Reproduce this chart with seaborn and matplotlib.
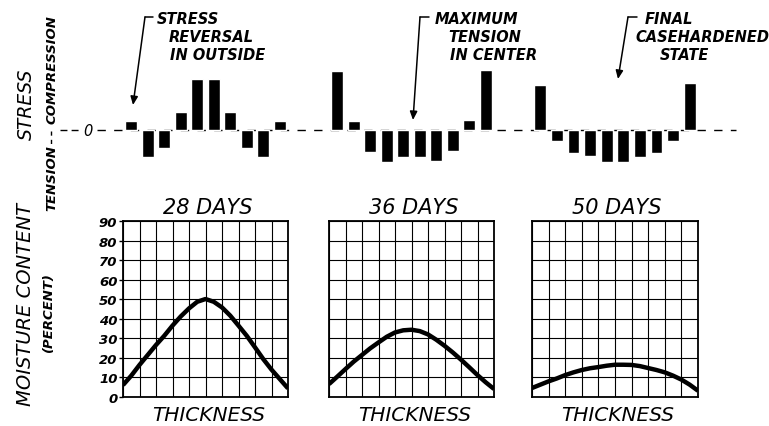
import matplotlib
matplotlib.use("Agg")
import matplotlib.pyplot as plt
from matplotlib.lines import Line2D
from matplotlib.patches import FancyArrowPatch
import pandas as pd
import seaborn as sns

# ---- data -------------------------------------------------------------
days = ["28 DAYS", "36 DAYS", "50 DAYS"]

# relative stress in each of ten layers across the thickness
# (positive = compression, negative = tension)
stress_28 = [9, -27, -18, 18, 51, 51, 18, -18, -27, 9]
stress_36 = [59, 9, -22, -32, -27, -27, -31, -21, 10, 60]
stress_50 = [45, -11, -23, -26, -32, -32, -27, -23, -11, 47]

# moisture content (percent) at stations across the thickness
thickness = [0, 0.5, 1, 1.5, 2, 2.5, 3, 3.5, 4, 4.5, 5,
             5.5, 6, 6.5, 7, 7.5, 8, 8.5, 9, 9.5, 10]
moisture_28 = [6.1, 10.9, 16.4, 21.5, 26.6, 31.3, 36.5, 41.2, 45.3, 48.7, 50.1,
               48.7, 45.8, 41.6, 36.5, 31.3, 25.4, 19.4, 14.0, 9.2, 4.4]
moisture_36 = [6.6, 10.4, 14.3, 18.1, 21.5, 24.9, 27.9, 30.8, 33.0, 34.1, 34.4,
               33.7, 32.0, 29.3, 26.2, 22.8, 19.1, 15.2, 11.2, 7.5, 4.1]
moisture_50 = [4.6, 6.3, 8.0, 9.5, 11.2, 12.6, 13.8, 14.7, 15.3, 16.0, 16.5,
               16.5, 16.4, 15.8, 14.8, 13.8, 12.6, 10.9, 8.9, 6.3, 3.2]

grid_x = [0, 1, 2, 3, 4, 5, 6, 7, 8, 9, 10]
moisture_ticks = [0, 10, 20, 30, 40, 50, 60, 70, 80, 90]

notes = [
    ["STRESS", "REVERSAL", "IN OUTSIDE"],
    ["MAXIMUM", "TENSION", "IN CENTER"],
    ["FINAL", "CASEHARDENED", "STATE"],
]

# ---- style ------------------------------------------------------------
sns.set_style("white")
plt.rcParams["font.family"] = ["DejaVu Sans"]
plt.rcParams["font.style"] = "oblique"
for key in ("text.color", "axes.labelcolor", "xtick.color", "ytick.color"):
    plt.rcParams[key] = "black"

W, H = 769, 427
fig = plt.figure(figsize=(W / 100, H / 100), dpi=100)
fig.patch.set_facecolor("white")


def box(x0, y0, x1, y1):
    """Pixel box (top-left origin) -> figure fraction rect."""
    return [x0 / W, 1 - y1 / H, (x1 - x0) / W, (y1 - y0) / H]


def fx(x):
    return x / W


def fy(y):
    return 1 - y / H


panel_x = [(123, 288), (329, 494), (532, 698)]
stress_sets = [stress_28, stress_36, stress_50]
moisture_sets = [moisture_28, moisture_36, moisture_50]

# zero line of the stress diagrams (drawn behind the bars)
zero_y = 131
fig.add_artist(Line2D([fx(60), fx(80)], [fy(zero_y)] * 2, color="black",
                      lw=1, dashes=(5, 3)))
fig.add_artist(Line2D([fx(97), fx(736)], [fy(zero_y)] * 2, color="black",
                      lw=1, dashes=(6, 6), zorder=0))
fig.text(fx(88), fy(zero_y), "0", ha="center", va="center", fontsize=10.5,
         style="oblique", color="black")
fig.add_artist(Line2D([fx(51), fx(51)], [fy(132), fy(147)], color="black",
                      lw=1, dashes=(3, 3)))

for i, ((x0, x1), s_vals, m_vals, title) in enumerate(
        zip(panel_x, stress_sets, moisture_sets, days)):
    # stress bars
    ax_s = fig.add_axes(box(x0, zero_y - 70, x1, zero_y + 40))
    ax_s.patch.set_alpha(0)
    df_s = pd.DataFrame({"layer": list(range(10)), "stress": s_vals})
    sns.barplot(data=df_s, x="layer", y="stress", color="black",
                width=0.7, ax=ax_s, saturation=1, zorder=3)
    ax_s.set_xlim(-0.5, 9.5)
    ax_s.set_ylim(-40, 70)
    ax_s.axis("off")

    # moisture curve on a 10 x 9 grid
    ax_m = fig.add_axes(box(x0, 222, x1, 398))
    df_m = pd.DataFrame({"thickness": thickness, "moisture": m_vals})
    sns.lineplot(data=df_m, x="thickness", y="moisture", color="black",
                 lw=3.2, ax=ax_m, solid_capstyle="butt",
                 solid_joinstyle="round", zorder=4)
    ax_m.set_xlim(0, 10)
    ax_m.set_ylim(0, 90)
    ax_m.set_xticks(grid_x)
    ax_m.set_yticks(moisture_ticks)
    ax_m.grid(True, color="black", lw=0.8)
    for sp in ax_m.spines.values():
        sp.set_color("black")
        sp.set_linewidth(1.3)
    ax_m.set_xlabel("")
    ax_m.set_ylabel("")
    ax_m.tick_params(axis="x", bottom=False, labelbottom=False)
    if i == 0:
        ax_m.tick_params(axis="y", left=True, length=3, width=1,
                         color="black", labelcolor="black", pad=1,
                         labelsize=9.5)
        for lab in ax_m.get_yticklabels():
            lab.set_fontweight("bold")
            lab.set_fontstyle("oblique")
    else:
        ax_m.tick_params(axis="y", left=False, labelleft=False)

    cx = (x0 + x1) / 2
    fig.text(fx(cx + 2), fy(208), title, ha="center", va="center",
             fontsize=15, style="oblique", color="black")
    fig.text(fx(cx + 3), fy(416), "THICKNESS", ha="center", va="center",
             fontsize=14.5, style="oblique", color="black")

# annotations above the stress diagrams
note_pos = [
    [(157, 19), (169, 37), (170, 55)],
    [(435, 19), (448, 37), (450, 55)],
    [(645, 19), (635, 37), (660, 55)],
]
arrows = [
    ((153, 18), (145, 18), (133, 106)),
    ((429, 18), (420, 18), (413, 121)),
    ((637, 18), (628, 18), (618, 80)),
]
for lines, pos in zip(notes, note_pos):
    for txt, (x, y) in zip(lines, pos):
        fig.text(fx(x), fy(y), txt, ha="left", va="center", fontsize=10.5,
                 fontweight="bold", style="oblique", color="black")

for (t0, t1, tip) in arrows:
    fig.add_artist(Line2D([fx(t0[0]), fx(t1[0])], [fy(t0[1]), fy(t1[1])],
                          color="black", lw=1.1))
    fig.add_artist(FancyArrowPatch((fx(t1[0]), fy(t1[1])),
                                   (fx(tip[0]), fy(tip[1])),
                                   transform=fig.transFigure,
                                   arrowstyle="-|>,head_length=5,head_width=2.2",
                                   color="black", lw=1.1,
                                   shrinkA=0, shrinkB=0))

# left-hand labels
fig.text(fx(26), fy(104), "STRESS", rotation=90, ha="center", va="center",
         fontsize=13.5, style="oblique", color="black")
fig.text(fx(52), fy(70), "COMPRESSION", rotation=90, ha="center",
         va="center", fontsize=9.5, fontweight="bold", style="oblique",
         color="black")
fig.text(fx(52), fy(178), "TENSION", rotation=90, ha="center",
         va="center", fontsize=9.5, fontweight="bold", style="oblique",
         color="black")
fig.text(fx(26), fy(304), "MOISTURE CONTENT", rotation=90, ha="center",
         va="center", fontsize=14, style="oblique", color="black")
fig.text(fx(48), fy(312), "(PERCENT)", rotation=90, ha="center",
         va="center", fontsize=9.5, fontweight="bold", style="oblique",
         color="black")

fig.savefig("out.png", dpi=100, facecolor="white")
